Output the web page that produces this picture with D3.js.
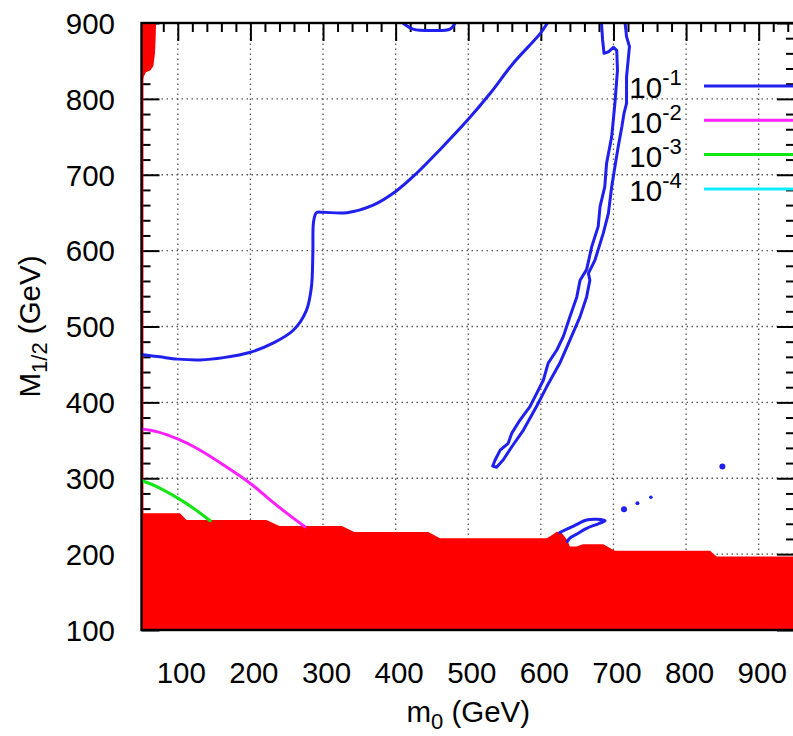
<!DOCTYPE html>
<html>
<head>
<meta charset="utf-8">
<script src="https://cdn.jsdelivr.net/npm/d3@7"></script>
<style>
  body { margin: 0; background: #fff; }
  svg { display: block; font-family: "Liberation Sans", Arial, sans-serif; }
  .tick text { font-size: 29.5px; fill: #000; }
</style>
</head>
<body>
<div id="chart"></div>
<script>
// axis ticks
var xTickValues = [100, 200, 300, 400, 500, 600, 700, 800, 900];
var yTickValues = [100, 200, 300, 400, 500, 600, 700, 800, 900];

// excluded region (red), [m0, M1/2]
var redLower = [[50, 100], [50, 254], [103, 254], [112, 245], [222, 245], [240, 237], [326, 237],
    [343, 229], [445, 229], [461, 221], [608, 221], [615, 225], [622, 229.5], [629, 227.5],
    [636, 219], [640, 210], [649, 210], [658, 213], [686, 213], [695, 208], [702, 204.6],
    [833, 204.6], [842, 197], [950, 197], [950, 100]];
var redUpper = [[50, 900], [70, 900], [69.5, 880], [68.6, 860], [66.3, 843], [62, 837.5],
    [56, 835], [52.5, 828], [50, 820]];

// 10^-1 contours
var blueMain = [[50, 463], [75, 460], [100, 457], [131, 456], [163, 459], [200, 466], [231, 478],
    [259, 495], [277, 521], [284, 552], [286, 597], [287, 638], [291, 650], [300, 650.5],
    [333, 650], [369, 660], [400, 678], [429, 702], [461, 733], [500, 773], [530, 807],
    [562, 847], [599, 886], [609, 900]];
var blueTop = [[410, 900], [424, 892], [452, 890], [475, 892], [482, 900]];
var blueBand = [[683.5, 900], [685, 878], [687, 860], [693, 862], [700, 868], [704.5, 864],
    [705.5, 838], [702, 794], [697.5, 750], [690.5, 715], [688, 684], [681.5, 658], [679, 632],
    [670, 605], [663, 575], [654, 561], [649.5, 539], [640, 513], [631, 487], [622, 469],
    [610, 451.5], [603.5, 429.5], [592, 407.5], [585, 394.5], [571.5, 377], [560, 359.5],
    [555, 346], [544, 337], [537, 324], [533.7, 316], [539, 314.5], [548, 324], [560, 341.5],
    [576, 363.5], [594, 394.5], [608, 420.5], [626, 451.5], [640, 482], [654, 513], [663, 539],
    [667.5, 561], [665.5, 570], [674.5, 587.5], [686, 623], [693, 649], [697.5, 684],
    [702, 710.5], [706.5, 737], [711.5, 763], [714.5, 781], [718, 794], [718, 829],
    [722, 869], [718, 882], [716, 900]];
var blueLoop = [[626, 228.5], [645, 237], [663, 245], [677, 246], [688.5, 244], [679, 240],
    [663, 234], [651.5, 227.5], [640, 221], [636.5, 216.5]];
var blueDots = [[714.5, 259, 3], [733, 267, 2], [751.5, 275, 1.8], [850, 315.5, 3]];

// 10^-2 and 10^-3 contours
var magentaLine = [[50, 365], [71, 361.5], [100.5, 351.5], [126, 339.5], [163, 317.5],
    [199.5, 293.5], [227, 271.5], [250, 254], [275, 236]];
var greenLine = [[50, 297], [71, 289], [100.5, 273.5], [121.5, 260.5], [144.5, 244]];

var legendExp = ["-1", "-2", "-3", "-4"];
var legendColors = ["#1f1fee", "#ff1fff", "#12e612", "#12eeff"];

var width = 793, height = 736;
var svg = d3.select("#chart").append("svg")
    .attr("width", width)
    .attr("height", height);

var x = d3.scaleLinear().domain([50, 950]).range([141.5, 795]);
var y = d3.scaleLinear().domain([100, 900]).range([630, 23]);

svg.append("clipPath").attr("id", "plotclip")
    .append("rect")
    .attr("x", x(50)).attr("y", y(900))
    .attr("width", x(950) - x(50)).attr("height", y(100) - y(900));

// grid
var grid = svg.append("g").attr("class", "grid")
    .attr("stroke", "#555").attr("stroke-width", 1.3).attr("stroke-dasharray", "1.5,3.5");
grid.selectAll("line.gx").data(xTickValues).enter().append("line")
    .attr("x1", d => x(d)).attr("x2", d => x(d))
    .attr("y1", y(100)).attr("y2", y(900));
grid.selectAll("line.gy").data(yTickValues.slice(1, -1)).enter().append("line")
    .attr("y1", d => y(d)).attr("y2", d => y(d))
    .attr("x1", x(50)).attr("x2", x(950));

// ticks on all sides, pointing inward
var minorX = d3.range(60, 950, 20).filter(v => v % 100 !== 0);
var minorY = d3.range(120, 900, 20).filter(v => v % 100 !== 0);

function tickAxis(axis, pos, values, size, labels) {
    var g = svg.append("g").attr("transform", pos)
        .call(axis.tickValues(values).tickSize(-size).tickFormat(labels ? d3.format("d") : ""));
    g.select(".domain").remove();
    g.selectAll(".tick line").attr("stroke", "#000").attr("stroke-width", 2);
    return g;
}

var leftAx = tickAxis(d3.axisLeft(y), "translate(" + x(50) + ",0)", yTickValues, 18, true);
leftAx.selectAll(".tick text")
    .attr("x", -26.5).attr("dy", null).attr("y", 10.3)
    .style("font-family", "'Liberation Sans', Arial, sans-serif");
tickAxis(d3.axisLeft(y), "translate(" + x(50) + ",0)", minorY, 9, false);

var bottomAx = tickAxis(d3.axisBottom(x), "translate(0," + y(100) + ")", xTickValues, 18, true);
bottomAx.selectAll(".tick text")
    .attr("y", 52.7).attr("dy", null).attr("x", 3)
    .style("font-family", "'Liberation Sans', Arial, sans-serif");
tickAxis(d3.axisBottom(x), "translate(0," + y(100) + ")", minorX, 9, false);

tickAxis(d3.axisTop(x), "translate(0," + y(900) + ")", xTickValues, 18, false);
tickAxis(d3.axisTop(x), "translate(0," + y(900) + ")", minorX, 9, false);
tickAxis(d3.axisRight(y), "translate(" + x(950) + ",0)", yTickValues, 18, false);
tickAxis(d3.axisRight(y), "translate(" + x(950) + ",0)", minorY, 9, false);

// plot content
var plot = svg.append("g").attr("clip-path", "url(#plotclip)");

var area = d3.line().x(d => x(d[0])).y(d => y(d[1]));
plot.append("path").datum(redLower).attr("d", area(redLower) + "Z").attr("fill", "#ff0000");
plot.append("path").datum(redUpper).attr("d", area(redUpper) + "Z").attr("fill", "#ff0000");
plot.append("line")
    .attr("x1", x(50) + 1.2).attr("x2", x(50) + 1.2)
    .attr("y1", y(100)).attr("y2", y(900))
    .attr("stroke", "#ff0000").attr("stroke-width", 1.5);

var smooth = d3.line().x(d => x(d[0])).y(d => y(d[1])).curve(d3.curveCatmullRom.alpha(0.5));
var rough = d3.line().x(d => x(d[0])).y(d => y(d[1])).curve(d3.curveLinear);

function contour(data, gen, color) {
    plot.append("path").datum(data)
        .attr("d", gen)
        .attr("fill", "none")
        .attr("stroke", color)
        .attr("stroke-width", 3)
        .attr("stroke-linejoin", "round")
        .attr("stroke-linecap", "round");
}
contour(magentaLine, smooth, legendColors[1]);
contour(greenLine, smooth, legendColors[2]);
contour(blueMain, smooth, legendColors[0]);
contour(blueTop, smooth, legendColors[0]);
contour(blueBand, rough, legendColors[0]);
contour(blueLoop, smooth, legendColors[0]);

plot.selectAll("circle.dot").data(blueDots).enter().append("circle")
    .attr("class", "dot")
    .attr("cx", d => x(d[0])).attr("cy", d => y(d[1])).attr("r", d => d[2])
    .attr("fill", legendColors[0]);

// legend
var legend = svg.append("g").attr("class", "legend");
legendExp.forEach(function(e, i) {
    var ly = 86 + i * 34.3;
    var t = legend.append("text")
        .attr("x", 681.7).attr("y", ly + 12.3)
        .attr("text-anchor", "end")
        .style("font-size", "29.5px");
    t.append("tspan").text("10");
    t.append("tspan").attr("dy", -13).style("font-size", "22px").text(e);
    legend.append("line")
        .attr("x1", 704).attr("x2", 800)
        .attr("y1", ly).attr("y2", ly)
        .attr("stroke", legendColors[i]).attr("stroke-width", 3);
});

// frame
svg.append("rect")
    .attr("x", x(50)).attr("y", y(900))
    .attr("width", x(950) - x(50)).attr("height", y(100) - y(900))
    .attr("fill", "none").attr("stroke", "#000").attr("stroke-width", 2.4);

// axis titles
var xt = svg.append("text")
    .attr("x", (x(50) + x(950)) / 2).attr("y", 722)
    .attr("text-anchor", "middle").style("font-size", "29.5px");
xt.append("tspan").text("m");
xt.append("tspan").attr("dy", 7).style("font-size", "22px").text("0");
xt.append("tspan").attr("dy", -7).text(" (GeV)");

var yt = svg.append("text")
    .attr("transform", "translate(40," + ((y(100) + y(900)) / 2) + ") rotate(-90)")
    .attr("text-anchor", "middle").style("font-size", "29.5px");
yt.append("tspan").text("M");
yt.append("tspan").attr("dy", 7).style("font-size", "22px").text("1/2");
yt.append("tspan").attr("dy", -7).text(" (GeV)");
</script>
</body>
</html>
